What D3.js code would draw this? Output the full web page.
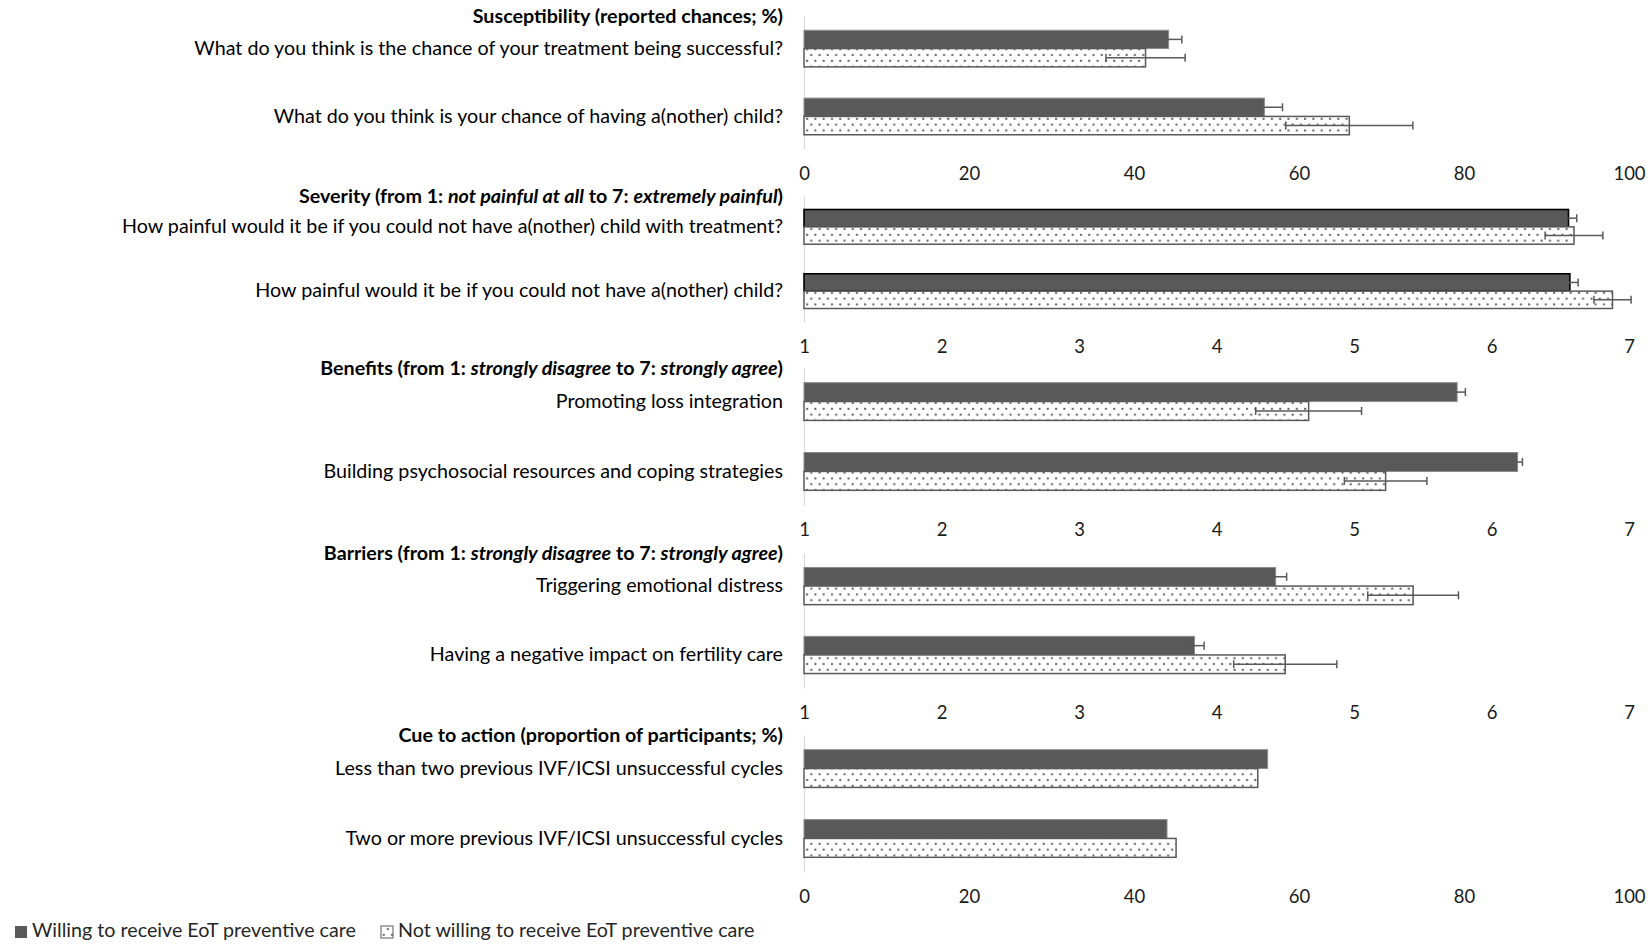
<!DOCTYPE html>
<html>
<head>
<meta charset="utf-8">
<script src="https://cdn.jsdelivr.net/npm/d3@7"></script>
<style>
  html, body { margin: 0; padding: 0; background: #fff; }
  svg { display: block; }
</style>
</head>
<body>
<script>
// ---------------- DATA ----------------
const suscHeader = [["Susceptibility (reported chances; %)", false]];
const suscItems = [
  "What do you think is the chance of your treatment being successful?",
  "What do you think is your chance of having a(nother) child?"
];
const suscWilling = [44.2, 55.8];
const suscWillingErr = [1.6, 2.2];
const suscNot = [41.4, 66.1];
const suscNotErr = [4.8, 7.7];

const sevHeader = [["Severity (from 1: ", false], ["not painful at all", true], [" to 7: ", false], ["extremely painful", true], [")", false]];
const sevItems = [
  "How painful would it be if you could not have a(nother) child with treatment?",
  "How painful would it be if you could not have a(nother) child?"
];
const sevWilling = [6.56, 6.57];
const sevWillingErr = [0.06, 0.06];
const sevNot = [6.60, 6.88];
const sevNotErr = [0.21, 0.135];

const benHeader = [["Benefits (from 1: ", false], ["strongly disagree", true], [" to 7: ", false], ["strongly agree", true], [")", false]];
const benItems = [
  "Promoting loss integration",
  "Building psychosocial resources and coping strategies"
];
const benWilling = [5.75, 6.19];
const benWillingErr = [0.06, 0.035];
const benNot = [4.67, 5.23];
const benNotErr = [0.385, 0.30];

const barHeader = [["Barriers (from 1: ", false], ["strongly disagree", true], [" to 7: ", false], ["strongly agree", true], [")", false]];
const barItems = [
  "Triggering emotional distress",
  "Having a negative impact on fertility care"
];
const barWilling = [4.43, 3.84];
const barWillingErr = [0.08, 0.07];
const barNot = [5.43, 4.50];
const barNotErr = [0.33, 0.375];

const cueHeader = [["Cue to action (proportion of participants; %)", false]];
const cueItems = [
  "Less than two previous IVF/ICSI unsuccessful cycles",
  "Two or more previous IVF/ICSI unsuccessful cycles"
];
const cueWilling = [56.2, 44.0];
const cueNot = [55.0, 45.1];

const pctTicks = [0, 20, 40, 60, 80, 100];
const likertTicks = [1, 2, 3, 4, 5, 6, 7];
const legendLabels = ["Willing to receive EoT preventive care", "Not willing to receive EoT preventive care"];

// ---------------- LAYOUT / STYLE ----------------
const W = 1650, H = 945;
const X0 = 804, X1 = 1629, LABEL_GAP = 21;
const DARK = "#595959";
const FONT = "Lato, 'Open Sans', 'DejaVu Sans', sans-serif";
const FS = 19.7, TICK_FS = 18.5;

const svg = d3.select("body").append("svg")
  .attr("width", W).attr("height", H)
  .style("font-family", FONT);

const defs = svg.append("defs");
const pat = defs.append("pattern").attr("id", "dots")
  .attr("patternUnits", "userSpaceOnUse")
  .attr("width", 8.3).attr("height", 11.6);
pat.append("rect").attr("width", 8.3).attr("height", 11.6).attr("fill", "#fff");
pat.append("rect").attr("x", 1).attr("y", 1.8).attr("width", 2).attr("height", 2).attr("fill", "#606060");
pat.append("rect").attr("x", 5.15).attr("y", 7.6).attr("width", 2).attr("height", 2).attr("fill", "#606060");

function richText(sel, segs) {
  segs.forEach(([t, it]) => {
    sel.append("tspan").attr("font-style", it ? "italic" : "normal").text(t);
  });
}

function drawPanel(cfg) {
  const y = d3.scaleBand().domain(cfg.items).range([cfg.top, cfg.bottom])
    .paddingInner(0.46).paddingOuter(0.21);
  const x = d3.scaleLinear().domain(cfg.domain).range([X0, X1]);
  const g = svg.append("g");

  // left axis (category labels + light axis line)
  const ya = g.append("g").attr("transform", `translate(${X0},0)`)
    .call(d3.axisLeft(y).tickSize(0).tickSizeOuter(0).tickPadding(LABEL_GAP));
  ya.select(".domain").attr("stroke", "#d9d9d9").attr("stroke-width", 1.2);
  ya.selectAll("text").attr("font-size", FS).attr("fill", "#000").attr("font-family", FONT);

  // header
  const ht = g.append("text")
    .attr("x", X0 - LABEL_GAP).attr("y", cfg.top + 2)
    .attr("text-anchor", "end").attr("dominant-baseline", "middle")
    .attr("font-size", FS).attr("font-weight", "bold").attr("fill", "#000");
  richText(ht, cfg.header);

  const rows = cfg.items.map((d, i) => ({
    item: d,
    w: cfg.willing[i], we: cfg.willingErr ? cfg.willingErr[i] : null,
    n: cfg.notW[i], ne: cfg.notErr ? cfg.notErr[i] : null
  }));
  const hb = y.bandwidth() / 2;
  const base = x(cfg.domain[0]);

  // willing bars
  g.selectAll(".bw").data(rows).join("rect")
    .attr("x", base).attr("y", d => y(d.item))
    .attr("width", d => x(d.w) - base).attr("height", hb)
    .attr("fill", DARK)
    .attr("stroke", cfg.darkStroke).attr("stroke-width", cfg.darkStrokeW);

  // not willing bars
  g.selectAll(".bn").data(rows).join("rect")
    .attr("x", base).attr("y", d => y(d.item) + hb)
    .attr("width", d => x(d.n) - base).attr("height", hb)
    .attr("fill", "url(#dots)")
    .attr("stroke", DARK).attr("stroke-width", 1.5);

  // error bars
  const errs = [];
  rows.forEach(d => {
    if (d.we != null) errs.push({v: d.w, e: d.we, cy: y(d.item) + hb / 2});
    if (d.ne != null) errs.push({v: d.n, e: d.ne, cy: y(d.item) + hb * 1.5});
  });
  const eg = g.selectAll(".err").data(errs).join("g").attr("stroke", DARK).attr("stroke-width", 1.5);
  eg.append("line").attr("x1", d => x(d.v - d.e)).attr("x2", d => x(d.v + d.e))
    .attr("y1", d => d.cy).attr("y2", d => d.cy);
  eg.append("line").attr("x1", d => x(d.v - d.e)).attr("x2", d => x(d.v - d.e))
    .attr("y1", d => d.cy - 4).attr("y2", d => d.cy + 4);
  eg.append("line").attr("x1", d => x(d.v + d.e)).attr("x2", d => x(d.v + d.e))
    .attr("y1", d => d.cy - 4).attr("y2", d => d.cy + 4);

  // bottom axis (labels only)
  const xa = g.append("g").attr("transform", `translate(0,${cfg.bottom})`)
    .call(d3.axisBottom(x).tickValues(cfg.ticks).tickFormat(d3.format("d")).tickSize(0).tickPadding(18));
  xa.select(".domain").remove();
  xa.selectAll("text").attr("font-size", TICK_FS).attr("fill", "#1a1a1a").attr("font-family", FONT);
}

drawPanel({header: suscHeader, items: suscItems, willing: suscWilling, willingErr: suscWillingErr,
  notW: suscNot, notErr: suscNotErr, domain: [0, 100], ticks: pctTicks, top: 16, bottom: 149,
  darkStroke: "#8c8c8c", darkStrokeW: 1});
drawPanel({header: sevHeader, items: sevItems, willing: sevWilling, willingErr: sevWillingErr,
  notW: sevNot, notErr: sevNotErr, domain: [1, 7], ticks: likertTicks, top: 196, bottom: 322,
  darkStroke: "#000", darkStrokeW: 1.6});
drawPanel({header: benHeader, items: benItems, willing: benWilling, willingErr: benWillingErr,
  notW: benNot, notErr: benNotErr, domain: [1, 7], ticks: likertTicks, top: 368, bottom: 505,
  darkStroke: "#8c8c8c", darkStrokeW: 1});
drawPanel({header: barHeader, items: barItems, willing: barWilling, willingErr: barWillingErr,
  notW: barNot, notErr: barNotErr, domain: [1, 7], ticks: likertTicks, top: 553, bottom: 688,
  darkStroke: "#8c8c8c", darkStrokeW: 1});
drawPanel({header: cueHeader, items: cueItems, willing: cueWilling, willingErr: null,
  notW: cueNot, notErr: null, domain: [0, 100], ticks: pctTicks, top: 735, bottom: 872,
  darkStroke: "#8c8c8c", darkStrokeW: 1});

// legend
const leg = svg.append("g").attr("transform", "translate(0,932)");
const legX = [15, 381];
leg.append("rect").attr("x", legX[0]).attr("y", -6).attr("width", 12).attr("height", 12).attr("fill", DARK);
leg.append("rect").attr("x", legX[1]).attr("y", -6).attr("width", 12).attr("height", 12)
  .attr("fill", "url(#dots)").attr("stroke", DARK).attr("stroke-width", 1);
legendLabels.forEach((t, i) => {
  leg.append("text").attr("x", legX[i] + 17).attr("y", 0).attr("dominant-baseline", "middle")
    .attr("font-size", FS).attr("fill", "#262626").text(t);
});
</script>
</body>
</html>
